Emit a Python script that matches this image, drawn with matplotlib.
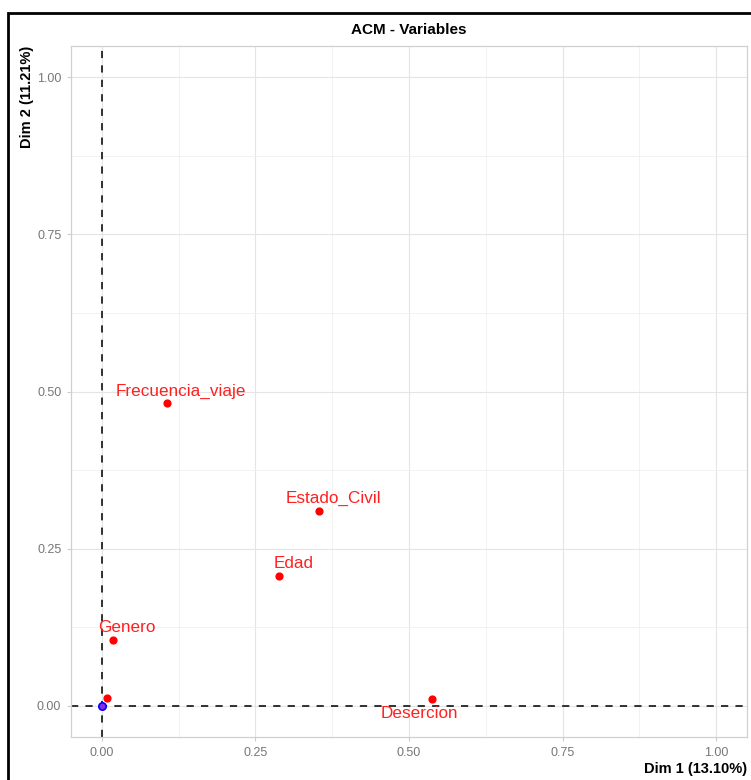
import matplotlib.pyplot as plt
from matplotlib.patches import Rectangle

# variable coordinates on the first two dimensions
names = ["Frecuencia_viaje", "Estado_Civil", "Edad", "Genero", "", "Desercion"]
dim1 = [0.106, 0.354, 0.289, 0.018, 0.009, 0.538]
dim2 = [0.481, 0.310, 0.206, 0.105, 0.012, 0.011]
# label offsets in points (repelled labels)
label_dx = [10, 10, 10, 10, 0, -9]
label_dy = [9, 9, 9, 9, 0, -11]

# supplementary point at the origin
sup_x = [0.0]
sup_y = [0.0]

ticks = [0.0, 0.25, 0.5, 0.75, 1.0]
tick_labels = ["0.00", "0.25", "0.50", "0.75", "1.00"]

plt.rcParams["font.family"] = ["Liberation Sans", "DejaVu Sans"]

fig = plt.figure(figsize=(7.51, 7.80), dpi=100)
ax = fig.add_axes([71 / 751, 43 / 780, 676 / 751, 691 / 780])

# black screenshot frame (top and left visible)
fig.patches.append(Rectangle((7.5 / 751, -0.1), 1.2, (780 - 12.5) / 780 + 0.1,
                             transform=fig.transFigure, fill=False,
                             edgecolor="black", linewidth=2))

ax.set_xlim(-0.05, 1.05)
ax.set_ylim(-0.05, 1.05)
ax.set_xticks(ticks)
ax.set_xticklabels(tick_labels)
ax.set_yticks(ticks)
ax.set_yticklabels(tick_labels)
ax.set_xticks([0.125, 0.375, 0.625, 0.875], minor=True)
ax.set_yticks([0.125, 0.375, 0.625, 0.875], minor=True)
ax.grid(which="major", color="#e5e5e5", linewidth=0.8)
ax.grid(which="minor", color="#f0f0f0", linewidth=0.6)
ax.set_axisbelow(True)
ax.tick_params(which="both", length=0, labelsize=9, labelcolor="#777777", pad=4)
ax.tick_params(which="major", length=3, color="#cccccc")
for s in ax.spines.values():
    s.set_color("#d0d0d0")
    s.set_linewidth(0.9)

ax.axhline(0, color="#222222", linestyle=(0, (4, 4)), linewidth=1.3, zorder=2)
ax.axvline(0, color="#222222", linestyle=(0, (4, 4)), linewidth=1.3, zorder=2)

ax.scatter(dim1, dim2, s=24, color="red", zorder=3)
ax.scatter(sup_x, sup_y, s=28, facecolor="#8a2be2", edgecolor="blue",
           linewidth=1.2, zorder=4)

for x, y, n, dx, dy in zip(dim1, dim2, names, label_dx, label_dy):
    if n:
        ax.annotate(n, (x, y), xytext=(dx, dy), textcoords="offset points",
                    ha="center", va="center", color="#ff2020", fontsize=12.3)

ax.set_title("ACM - Variables", fontsize=11, fontweight="bold", pad=9)
ax.set_xlabel("Dim 1 (13.10%)", fontsize=10.5, fontweight="bold", loc="right",
              labelpad=2)
ax.set_ylabel("Dim 2 (11.21%)", fontsize=10.5, fontweight="bold", loc="top",
              labelpad=2)

fig.savefig("out.png", dpi=100)
